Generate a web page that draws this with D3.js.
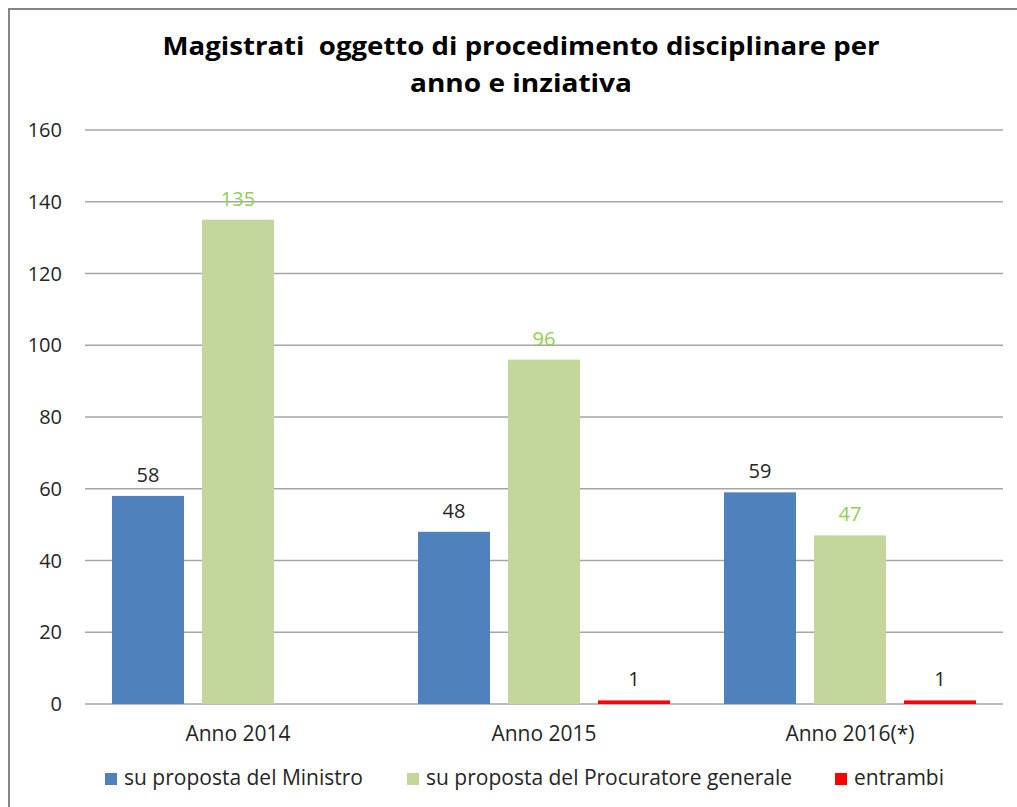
<!DOCTYPE html>
<html>
<head>
<meta charset="utf-8">
<script src="https://cdn.jsdelivr.net/npm/d3@7"></script>
<style>
  body { margin: 0; background: #fff; }
  svg { display: block; font-family: "Open Sans", sans-serif; }
</style>
</head>
<body>
<svg id="chart"></svg>
<script>
// chart data
const categories = ["Anno 2014", "Anno 2015", "Anno 2016(*)"];
const seriesNames = ["su proposta del Ministro", "su proposta del Procuratore generale", "entrambi"];
const ministro = [58, 48, 59];
const procuratore = [135, 96, 47];
const entrambi = [null, 1, 1];
const yTicks = [0, 20, 40, 60, 80, 100, 120, 140, 160];
const titleLines = ["Magistrati  oggetto di procedimento disciplinare per", "anno e inziativa"];

// dimensions
const width = 1017;
const height = 807;
const plotLeft = 85;
const plotRight = 1003;
const plotTop = 130;
const plotBottom = 704;
const fontSize = 21;

const colors = ["#4f81bd", "#c3d69b", "#ff0000"];
const labelColors = ["#262626", "#92d050", "#262626"];

const svg = d3.select("#chart")
    .attr("width", width)
    .attr("height", height);

// outer frame (cut on the right and bottom)
svg.append("rect")
    .attr("x", 9).attr("y", 9)
    .attr("width", width + 10).attr("height", height + 10)
    .attr("fill", "#fff")
    .attr("stroke", "#868686")
    .attr("stroke-width", 2);

// title (stretched a little, like the original)
const titleWidths = [717, 222];
svg.append("g")
    .selectAll("text")
    .data(titleLines)
    .join("text")
    .attr("x", 521)
    .attr("y", (d, i) => 55 + i * 37)
    .attr("text-anchor", "middle")
    .attr("font-size", 25)
    .attr("font-weight", "bold")
    .attr("fill", "#000")
    .attr("xml:space", "preserve")
    .attr("textLength", (d, i) => titleWidths[i])
    .attr("lengthAdjust", "spacingAndGlyphs")
    .text(d => d);

// scales
const x = d3.scaleBand()
    .domain(categories)
    .range([plotLeft, plotRight]);

const xInner = d3.scaleBand()
    .domain(d3.range(3))
    .range([0, x.bandwidth()])
    .paddingInner(0.2)
    .paddingOuter(0.3);

const y = d3.scaleLinear()
    .domain([0, 160])
    .range([plotBottom, plotTop]);

// grid lines and y labels
const gGrid = svg.append("g");
gGrid.selectAll("line")
    .data(yTicks)
    .join("line")
    .attr("x1", plotLeft).attr("x2", plotRight)
    .attr("y1", d => y(d)).attr("y2", d => y(d))
    .attr("stroke", "#a6a6a6")
    .attr("stroke-width", 1.5);

gGrid.selectAll("text")
    .data(yTicks)
    .join("text")
    .attr("x", 62)
    .attr("y", d => y(d))
    .attr("dy", "0.35em")
    .attr("text-anchor", "end")
    .attr("font-size", 20)
    .attr("fill", "#262626")
    .text(d => d);

// bars
const series = [ministro, procuratore, entrambi];
const rows = [];
series.forEach((vals, s) => {
  vals.forEach((v, c) => {
    if (v != null) rows.push({ s: s, cat: categories[c], value: v });
  });
});

svg.append("g")
    .selectAll("rect")
    .data(rows)
    .join("rect")
    .attr("x", d => x(d.cat) + xInner(d.s))
    .attr("y", d => y(d.value))
    .attr("width", xInner.bandwidth())
    .attr("height", d => y(0) - y(d.value))
    .attr("fill", d => colors[d.s]);

// data labels
svg.append("g")
    .selectAll("text")
    .data(rows)
    .join("text")
    .attr("x", d => x(d.cat) + xInner(d.s) + xInner.bandwidth() / 2)
    .attr("y", d => y(d.value) - 14)
    .attr("text-anchor", "middle")
    .attr("font-size", 20)
    .attr("fill", d => labelColors[d.s])
    .text(d => d.value);

// x labels
svg.append("g")
    .selectAll("text")
    .data(categories)
    .join("text")
    .attr("x", d => x(d) + x.bandwidth() / 2)
    .attr("y", 741)
    .attr("text-anchor", "middle")
    .attr("font-size", fontSize)
    .attr("fill", "#262626")
    .text(d => d);

// legend
const legendX = [105, 407, 835];
const legend = svg.append("g")
    .selectAll("g")
    .data(seriesNames)
    .join("g")
    .attr("transform", (d, i) => `translate(${legendX[i]},773)`);

legend.append("rect")
    .attr("width", 12).attr("height", 12)
    .attr("fill", (d, i) => colors[i]);

legend.append("text")
    .attr("x", 19)
    .attr("y", 12)
    .attr("font-size", fontSize)
    .attr("fill", "#262626")
    .text(d => d);
</script>
</body>
</html>
